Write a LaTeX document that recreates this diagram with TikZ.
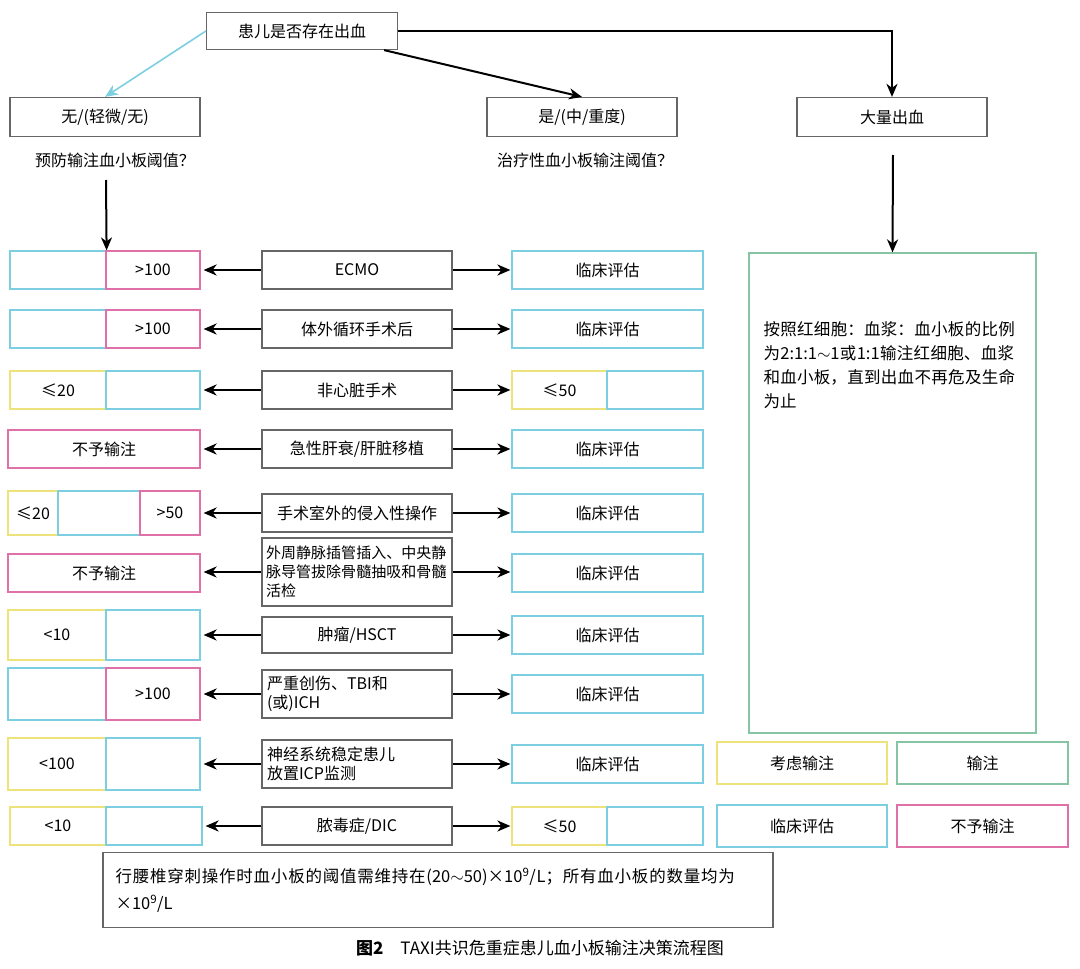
\documentclass[tikz,border=0pt]{standalone}
\usepackage{fontspec}
\setmainfont{Noto Sans CJK SC}
\XeTeXlinebreaklocale "zh"
\XeTeXlinebreakskip=0pt plus 1pt
\usetikzlibrary{arrows.meta}
\definecolor{cy}{HTML}{7CCFE0}
\definecolor{pk}{HTML}{E070A8}
\definecolor{yl}{HTML}{EEE27A}
\definecolor{gn}{HTML}{86C4A4}
\definecolor{gy}{HTML}{666666}
\tikzset{
 cell/.style={draw=#1,line width=1.2pt,inner sep=2pt,font=\fontsize{16}{20}\selectfont,anchor=center},
 mid/.style={draw=gy,line width=1.2pt,minimum width=190pt,inner sep=2pt,font=\fontsize{16}{19}\selectfont,align=left},
 arr/.style={-{Stealth[length=13pt,width=11pt,inset=4pt]},line width=2pt},
 lbl/.style={font=\fontsize{16}{20}\selectfont}
}
\newcommand{\cellbox}[7]{% name x1 x2 yc h color text
 \node[cell=#6,minimum width={#3-#2},minimum height=#5] (#1) at ({(#2+#3)/2},#4) {#7};}
\begin{document}
\begin{tikzpicture}[x=1pt,y=-1pt]
\useasboundingbox (0,0) rectangle (1080,969);
% top
\node[mid,minimum width=191pt,minimum height=37pt] (top) at (302,31) {患儿是否存在出血};
\node[mid,minimum height=39pt] (no) at (105,117) {无/(轻微/无)};
\node[mid,minimum height=39pt] (yes) at (582,117) {是/(中/重度)};
\node[mid,minimum height=39pt] (big) at (892,117) {大量出血};
\draw[arr,draw=cy,line width=1.6pt] (top.west) -- (no.north);
\draw[arr] (top.south east) ++(-14,0) -- (yes.north);
\draw[arr] (top.east) -| (big.north);
\node[lbl] (q1) at (115,160) {预防输注血小板阈值？};
\node[lbl] (q2) at (585,160) {治疗性血小板输注阈值？};
\coordinate (a1) at (106,180);
\coordinate (a2) at (893,155);
% green box
\node[draw=gn,line width=1.2pt,minimum width=287pt,minimum height=480pt] (gbox) at (892.5,493) {};
\node[lbl,anchor=north west,text width=262pt,align=left,font=\fontsize{16.5}{24}\selectfont] (gtext) at (760,318) {按照红细胞：血浆：血小板的比例为2:1:1$\sim$1或1:1输注红细胞、血浆和血小板，直到出血不再危及生命为止};
% row1
\cellbox{l1a}{10}{106}{270}{38}{cy}{}
\cellbox{l1}{106}{200}{270}{38}{pk}{>100}
\node[mid,minimum height=38pt] (m1) at (357,270) {ECMO};
\cellbox{r1}{512}{703}{270}{38}{cy}{临床评估}
% row2
\cellbox{l2a}{10}{106}{329}{38}{cy}{}
\cellbox{l2}{106}{200}{329}{38}{pk}{>100}
\node[mid,minimum height=38pt] (m2) at (357,329) {体外循环手术后};
\cellbox{r2}{512}{703}{329}{38}{cy}{临床评估}
% row3
\cellbox{l3a}{10}{106}{390}{38}{yl}{≤20}
\cellbox{l3}{106}{200}{390}{38}{cy}{}
\node[mid,minimum height=38pt] (m3) at (357,390) {非心脏手术};
\cellbox{r3}{512}{607}{390}{38}{yl}{≤50}
\cellbox{r3b}{607}{703}{390}{38}{cy}{}
% row4
\cellbox{l4}{8}{200}{449}{38}{pk}{不予输注}
\node[mid,minimum height=38pt] (m4) at (357,449) {急性肝衰/肝脏移植};
\cellbox{r4}{512}{703}{449}{38}{cy}{临床评估}
% row5
\cellbox{l5a}{8}{58}{513}{44}{yl}{≤20}
\cellbox{l5b}{58}{140}{513}{44}{cy}{}
\cellbox{l5}{140}{200}{513}{44}{pk}{>50}
\node[mid,minimum height=38pt,inner sep=0pt] (m5) at (357,513) {手术室外的侵入性操作};
\cellbox{r5}{512}{703}{513}{38}{cy}{临床评估}
% row6
\cellbox{l6}{8}{200}{573}{38}{pk}{不予输注}
\node[mid,minimum height=68pt,text width=182pt,font=\fontsize{15}{19}\selectfont] (m6) at (357,572) {外周静脉插管插入、中央静脉导管拔除骨髓抽吸和骨髓活检};
\cellbox{r6}{512}{703}{573}{38}{cy}{临床评估}
% row7
\cellbox{l7a}{8}{106}{635}{50}{yl}{<10}
\cellbox{l7}{106}{200}{635}{50}{cy}{}
\node[mid,minimum height=36pt] (m7) at (357,635) {肿瘤/HSCT};
\cellbox{r7}{512}{703}{635}{38}{cy}{临床评估}
% row8
\cellbox{l8a}{8}{106}{694}{52}{cy}{}
\cellbox{l8}{106}{200}{694}{52}{pk}{>100}
\node[mid,minimum height=48pt,text width=180pt] (m8) at (357,694) {严重创伤、TBI和\\(或)ICH};
\cellbox{r8}{512}{703}{694}{38}{cy}{临床评估}
% row9
\cellbox{l9a}{8}{106}{764}{52}{yl}{<100}
\cellbox{l9}{106}{200}{764}{52}{cy}{}
\node[mid,minimum height=48pt,text width=180pt] (m9) at (357,764) {神经系统稳定患儿\\放置ICP监测};
\cellbox{r9}{512}{703}{764}{38}{cy}{临床评估}
% row10
\cellbox{l10a}{10}{106}{826}{38}{yl}{<10}
\cellbox{l10}{106}{202}{826}{38}{cy}{}
\node[mid,minimum height=38pt] (m10) at (357,826) {脓毒症/DIC};
\cellbox{r10}{512}{607}{826}{38}{yl}{≤50}
\cellbox{r10b}{607}{703}{826}{38}{cy}{}
% arrows
\foreach \i in {1,...,10}{
  \draw[arr] (m\i.west) -- ([xshift=3pt]l\i.east |- m\i.west);
  \draw[arr] (m\i.east) -- ([xshift=-1pt]r\i.west |- m\i.east);
}
\draw[arr] (a1) -- (l1a.north east);
\draw[arr] (a2) -- (gbox.north);
% legend
\cellbox{g1}{717}{887}{763}{42}{yl}{考虑输注}
\cellbox{g2}{897}{1068}{763}{42}{gn}{输注}
\cellbox{g3}{717}{887}{826}{42}{cy}{临床评估}
\cellbox{g4}{897}{1068}{826}{42}{pk}{不予输注}
% note
\node[draw=gy,line width=1.2pt,minimum width=670pt,minimum height=75pt,text width=645pt,align=left,font=\fontsize{16.5}{27}\selectfont] (note) at (438,890) {行腰椎穿刺操作时血小板的阈值需维持在(20$\sim$50)×10\textsuperscript{9}/L；所有血小板的数量均为×10\textsuperscript{9}/L};
\node[font=\fontsize{17}{20}\selectfont] (cap) at (540,948) {\textbf{图2}\quad TAXI共识危重症患儿血小板输注决策流程图};
\end{tikzpicture}
\end{document}
